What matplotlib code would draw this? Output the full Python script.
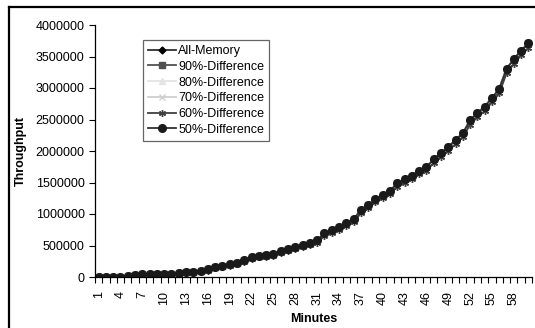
import matplotlib.pyplot as plt
import numpy as np
from matplotlib.lines import Line2D

plt.rcParams['font.family'] = ['Liberation Sans', 'DejaVu Sans']

minutes = list(range(1, 61))

# throughput per minute (all series nearly overlap)
all_memory = [5000, 5000, 3000, 5000, 20000, 30000, 40000, 45000, 55000, 55000,
              55000, 70000, 80000, 85000, 100000, 120000, 155000, 180000, 202000, 225000,
              270000, 313000, 338000, 352000, 370000, 413000, 444000, 476000, 513000, 544000,
              582000, 694000, 741000, 794000, 852000, 916000, 1060000, 1143000, 1235000, 1302000,
              1365000, 1487000, 1551000, 1608000, 1690000, 1745000, 1868000, 1968000, 2063000, 2175000,
              2281000, 2487000, 2603000, 2703000, 2842000, 2987000, 3305000, 3456000, 3592000, 3709000]
diff_90 = all_memory
diff_80 = all_memory
diff_70 = all_memory
diff_60 = [0, 0, 0, 0, 5000, 15000, 25000, 30000, 40000, 40000,
           40000, 55000, 65000, 70000, 85000, 100000, 135000, 160000, 180000, 200000,
           245000, 285000, 310000, 322000, 340000, 380000, 410000, 440000, 475000, 505000,
           542000, 650000, 697000, 748000, 805000, 868000, 1010000, 1092000, 1183000, 1250000,
           1312000, 1432000, 1495000, 1552000, 1632000, 1687000, 1808000, 1906000, 2000000, 2110000,
           2215000, 2420000, 2535000, 2634000, 2772000, 2915000, 3232000, 3382000, 3517000, 3633000]
diff_50 = all_memory

series = [
    ('All-Memory', all_memory, dict(marker='D', ms=3.5, color='#303030', mfc='black', mec='black')),
    ('90%-Difference', diff_90, dict(marker='s', ms=4, color='#505050', mfc='#505050', mec='#505050')),
    ('80%-Difference', diff_80, dict(marker='^', ms=4, color='#e4e4e4', mfc='#e4e4e4', mec='#e4e4e4')),
    ('70%-Difference', diff_70, dict(marker='x', ms=4, color='#cfcfcf', mfc='#cfcfcf', mec='#cfcfcf')),
    ('60%-Difference', diff_60, dict(marker=(6, 2, 0), ms=5, color='#404040', mfc='#404040', mec='#404040')),
    ('50%-Difference', diff_50, dict(marker='o', ms=5.5, color='#303030', mfc='#1a1a1a', mec='#1a1a1a')),
]

fig = plt.figure(figsize=(5.35, 3.28), dpi=100)
ax = fig.add_axes([95/535, 51/328, 437/535, 252/328])

x = np.arange(len(minutes))
for name, vals, st in series:
    ax.plot(x, vals, label=name, lw=1.3, **st)

ax.set_xlim(-0.5, len(minutes) - 0.5)
ax.set_ylim(0, 4000000)
ax.set_yticks(np.arange(0, 4000001, 500000))
ax.set_yticklabels([str(v) for v in range(0, 4000001, 500000)])

# category boundaries get the tick marks, labels every third minute
ax.set_xticks(np.arange(-0.5, len(minutes)), minor=False)
ax.set_xticklabels([])
ax.set_xticks(x[::3], minor=True)
ax.set_xticklabels([str(m) for m in minutes[::3]], minor=True, rotation=90)
ax.tick_params(axis='x', which='major', direction='out', length=4, width=0.8)
ax.tick_params(axis='x', which='minor', length=0, pad=10, labelsize=9)
ax.tick_params(axis='y', direction='out', length=4, width=0.8, labelsize=9)

for s in ['top', 'right']:
    ax.spines[s].set_visible(False)
ax.spines['left'].set_linewidth(0.9)
ax.spines['bottom'].set_linewidth(0.9)

ax.set_xlabel('Minutes', fontweight='bold', fontsize=9, labelpad=6)
ax.set_ylabel('Throughput', fontweight='bold', fontsize=9, labelpad=6)

leg = ax.legend(loc='upper left', bbox_to_anchor=(0.11, 0.94), borderaxespad=0,
                fontsize=9, frameon=True, fancybox=False, handlelength=2.2,
                labelspacing=0.3, borderpad=0.4, handletextpad=0.2)
leg.get_frame().set_edgecolor('#404040')
leg.get_frame().set_linewidth(0.9)

# chart area border
fig.add_artist(Line2D([9/535, 9/535], [0, 1 - 7/328], color='black', lw=1.6))
fig.add_artist(Line2D([9/535, 1], [1 - 7/328, 1 - 7/328], color='black', lw=1.6))

plt.savefig('out.png', dpi=100)
